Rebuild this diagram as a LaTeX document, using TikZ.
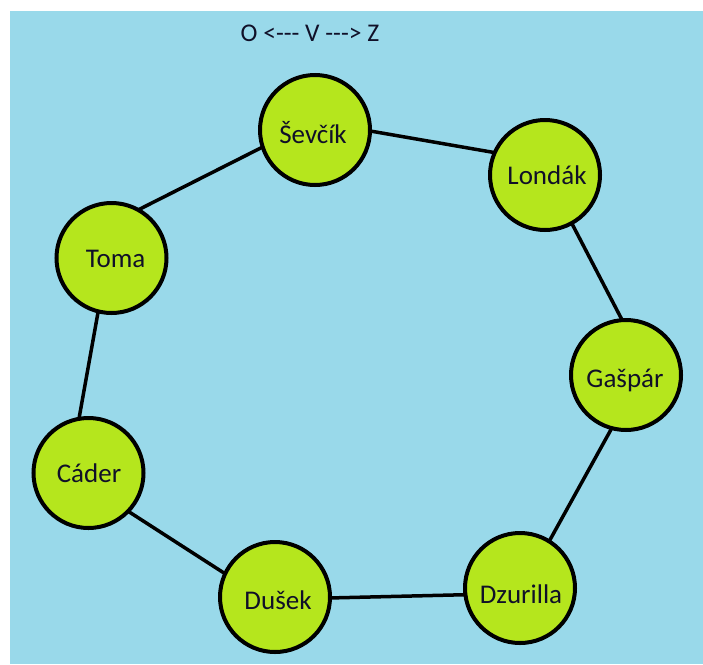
\documentclass[tikz,border=0pt]{standalone}
\usepackage{fontspec}
\setmainfont{Carlito}
\definecolor{bgblue}{HTML}{99D9EA}
\definecolor{lime}{HTML}{B5E61D}
\definecolor{ink}{HTML}{101028}
\newcommand{\dsh}{-\kern0pt-\kern0pt-}
\begin{document}
\begin{tikzpicture}[x=1pt,y=-1pt,
  person/.style={circle,draw=black,fill=lime,line width=4pt,minimum size=110pt,inner sep=0pt,outer sep=0pt},
  nametext/.style={anchor=base,inner sep=0pt,font=\fontsize{27}{30}\selectfont,text=ink},
  link/.style={draw=black,line width=3.5pt}]
\useasboundingbox (0,0) rectangle (703,664);
\fill[white] (0,0) rectangle (703,664);
\fill[bgblue] (10,11) rectangle (703,664);
\node[anchor=base,inner sep=0pt,font=\fontsize{25.5}{28}\selectfont,text=ink] (title) at (310,41) {O <\dsh{} V \dsh> Z};
\node[person] (sev) at (315,130) {};
\node[person] (lon) at (545,175) {};
\node[person] (gas) at (626,375) {};
\node[person] (dzu) at (520,588) {};
\node[person] (dus) at (275,597) {};
\node[person] (cad) at (88.5,473) {};
\node[person] (tom) at (111.5,258) {};
\node[nametext] (sevT) at (313,143) {Ševčík};
\node[nametext] (lonT) at (547,184) {Londák};
\node[nametext] (gasT) at (625,387) {Gašpár};
\node[nametext] (dzuT) at (521,603) {Dzurilla};
\node[nametext] (dusT) at (278,609) {Dušek};
\node[nametext] (cadT) at (89,482) {Cáder};
\node[nametext] (tomT) at (115.5,267) {Toma};
\draw[link] (sev.-1) -- (lon.156);
\draw[link] (lon.-61) -- (gas.94);
\draw[link] (gas.-105) -- (dzu.58);
\draw[link] (dzu.187) -- (dus.-1);
\draw[link] (dus.155) -- (cad.-44);
\draw[link] (cad.100) -- (tom.-104);
\draw[link] (tom.61) -- (sev.198);
\end{tikzpicture}
\end{document}
